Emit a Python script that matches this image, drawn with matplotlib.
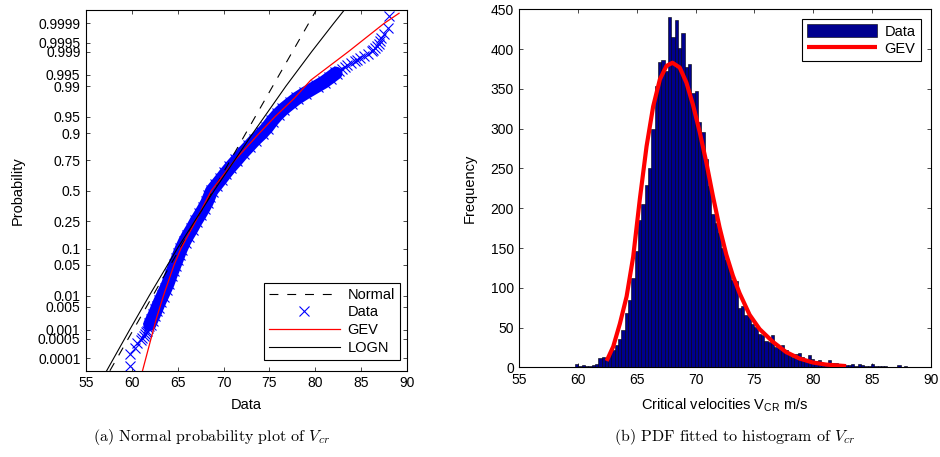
import numpy as np
import matplotlib
matplotlib.use("Agg")
import matplotlib.pyplot as plt
from matplotlib.ticker import FixedLocator, NullLocator
from statistics import NormalDist

plt.rcParams['font.family'] = ['Liberation Sans', 'DejaVu Sans']
plt.rcParams['mathtext.fontset'] = 'custom'
plt.rcParams['mathtext.rm'] = 'Liberation Sans'
plt.rcParams['mathtext.it'] = 'Liberation Sans:italic'

# ---------------- (a) normal probability plot ----------------
# sorted samples (value, plotting probability)
low_tail_x = [59.77, 59.85, 60.35, 60.6, 60.95, 61.1, 61.35, 61.45, 61.55, 61.65, 61.8, 61.9]
low_tail_p = [0.00005, 0.00015, 0.00025, 0.00035, 0.00045, 0.00055, 0.00065, 0.00075,
              0.00085, 0.00095, 0.00115, 0.00135]

band_x = [61.95, 62.15, 62.45, 62.65, 62.8, 63.05, 63.35, 63.7, 63.95, 64.25, 64.5, 64.7,
          64.95, 65.15, 65.4, 65.75, 66.1, 66.55, 67.0, 67.45, 67.85, 68.2, 68.45, 68.7,
          69.2, 69.7, 70.2, 70.75, 71.4, 72.1, 72.8, 73.4, 74.2, 74.75, 75.3, 75.9,
          76.5, 77.4, 78.0, 78.9, 80.2, 80.9, 81.6, 82.25]
band_p = [0.0015, 0.002, 0.003, 0.004, 0.005, 0.007, 0.01, 0.015, 0.02, 0.03, 0.04, 0.05,
          0.065, 0.08, 0.1, 0.13, 0.16, 0.2, 0.25, 0.3, 0.35, 0.4, 0.45, 0.5,
          0.55, 0.6, 0.65, 0.7, 0.75, 0.8, 0.84, 0.87, 0.9, 0.92, 0.94, 0.955,
          0.965, 0.975, 0.98, 0.985, 0.99, 0.992, 0.994, 0.9955]

high_tail_x = [82.6, 82.9, 83.2, 83.5, 83.9, 84.3, 84.6, 84.9, 85.3, 85.7, 86.2, 86.3,
               86.5, 86.7, 86.9, 87.0, 87.2, 87.5, 87.97, 88.04]
high_tail_p = [0.996, 0.9965, 0.997, 0.9974, 0.9977, 0.998, 0.9982, 0.9984, 0.9986, 0.9988,
               0.99905, 0.99915, 0.99925, 0.99935, 0.99945, 0.99955, 0.99965, 0.99975,
               0.99985, 0.99995]

normal_x = [57.6, 80.1]
normal_p = [0.000032, 0.99997]

logn_x = [57.25, 59.75, 61.9, 64.96, 68.95, 73.2, 76.8, 79.6, 82.0, 83.15]
logn_p = [0.000032, 0.001, 0.01, 0.1, 0.5, 0.9, 0.99, 0.999, 0.9999, 0.99997]

gev_x = [61.16, 61.95, 62.68, 63.45, 64.6, 65.35, 66.95, 68.65, 71.2, 73.9, 75.6,
         77.7, 79.5, 83.6, 87.5, 89.13]
gev_p = [0.000032, 0.00035, 0.0023, 0.01, 0.05, 0.1, 0.25, 0.5, 0.75, 0.9, 0.95,
         0.98, 0.993, 0.999, 0.9999, 0.99996]

prob_ticks = [0.0001, 0.0005, 0.001, 0.005, 0.01, 0.05, 0.1, 0.25, 0.5, 0.75, 0.9,
              0.95, 0.99, 0.995, 0.999, 0.9995, 0.9999]
prob_labels = ['0.0001', '0.0005', '0.001', '0.005', '0.01', '0.05', '0.1', '0.25', '0.5',
               '0.75', '0.9', '0.95', '0.99', '0.995', '0.999', '0.9995', '0.9999']

# ---------------- (b) histogram + GEV pdf ----------------
hist_start = 59.72
hist_width = 0.283
hist_counts = [4, 2, 3, 2, 2, 3, 4, 12, 13, 12, 18, 22, 28, 36, 47, 68, 85, 112, 146, 185,
               205, 229, 251, 300, 354, 384, 387, 372, 441, 415, 437, 402, 420, 378, 382, 345,
               347, 308, 296, 262, 228, 193, 182, 169, 150, 135, 127, 110, 108, 75, 77, 66,
               64, 55, 51, 42, 41, 33, 32, 41, 26, 24, 28, 22, 18, 13, 17, 18, 13, 10, 16,
               10, 8, 9, 6, 5, 9, 6, 5, 4, 3, 3, 3, 4, 2, 4, 3, 1, 2, 4, 1, 2, 2, 1, 0, 0,
               0, 3, 0, 2]

pdf_x = [62.42, 62.98, 63.55, 64.12, 64.68, 65.25, 65.82, 66.38, 66.95, 67.51, 68.02,
         68.64, 69.21, 69.77, 70.34, 70.9, 71.47, 72.03, 72.6, 73.17, 73.74, 74.59, 75.44,
         76.57, 77.71, 78.84, 79.97, 81.1, 82.8]
pdf_y = [8, 26, 55, 89, 139, 212, 278, 328, 362, 379, 383, 377, 358, 330, 296, 258, 215,
         176, 142, 115, 93, 66, 48, 32, 19, 11, 6, 3.4, 1.5]

FS = 10.5

# normal probability axis
_nd = NormalDist()
_ppf = np.vectorize(_nd.inv_cdf, otypes=[float])
_cdf = np.vectorize(_nd.cdf, otypes=[float])


def to_z(p):
    p = np.clip(np.asarray(p, dtype=float), 1e-12, 1 - 1e-12)
    return _ppf(p)


def from_z(z):
    return _cdf(np.asarray(z, dtype=float))


fig = plt.figure(figsize=(9.4, 4.57), dpi=100)

ax1 = fig.add_axes([0.0915, 0.1888, 0.3415, 0.790])
ax1.set_yscale('function', functions=(to_z, from_z))

# many overlapping markers form a solid band in the reference
ax1.plot(band_x, band_p, color='blue', lw=9.5, solid_capstyle='round', zorder=2)
ax1.plot(band_x, band_p, 'x', color='blue', ms=9, mew=0.8, zorder=2)
ax1.plot(low_tail_x, low_tail_p, 'x', color='blue', ms=7, mew=0.8, zorder=2)
ax1.plot(high_tail_x, high_tail_p, 'x', color='blue', ms=7, mew=0.8, zorder=2)
h_data, = ax1.plot([], [], 'x', color='blue', ms=7, mew=0.8)
h_norm, = ax1.plot(normal_x, normal_p, color='black', lw=0.8, dashes=(8, 8), zorder=3)
h_gev, = ax1.plot(gev_x, gev_p, color='red', lw=0.9, zorder=3)
h_logn, = ax1.plot(logn_x, logn_p, color='black', lw=0.8, zorder=3)

ax1.set_xlim(55, 90)
ax1.set_ylim(0.0000322, 0.9999713)
ax1.set_xticks([55, 60, 65, 70, 75, 80, 85, 90])
ax1.yaxis.set_major_locator(FixedLocator(prob_ticks))
ax1.set_yticklabels(prob_labels)
ax1.yaxis.set_minor_locator(NullLocator())
ax1.set_xlabel('Data', fontsize=FS)
ax1.set_ylabel('Probability', fontsize=FS)
ax1.xaxis.set_label_coords(0.5, -0.075)
ax1.yaxis.set_label_coords(-0.19, 0.5)

leg1 = ax1.legend([h_norm, h_data, h_gev, h_logn], ['Normal', 'Data', 'GEV', 'LOGN'],
                  loc='lower right', bbox_to_anchor=(0.978, 0.03), borderaxespad=0,
                  fontsize=FS, handlelength=4.9, handletextpad=0.5, labelspacing=0.25,
                  borderpad=0.35, fancybox=False, framealpha=1, edgecolor='black')
leg1.get_frame().set_linewidth(0.8)

ax2 = fig.add_axes([0.5526, 0.1963, 0.4375, 0.783])
centers = [hist_start + hist_width * (i + 0.5) for i in range(len(hist_counts))]
bars = ax2.bar(centers, hist_counts, width=hist_width, color='#00008F', edgecolor='black',
               linewidth=0.4, zorder=2)
h_pdf, = ax2.plot(pdf_x, pdf_y, color='red', lw=3, zorder=3, solid_capstyle='butt')
ax2.set_xlim(55, 90)
ax2.set_ylim(0, 450)
ax2.set_xticks([55, 60, 65, 70, 75, 80, 85, 90])
ax2.set_yticks(range(0, 451, 50))
ax2.set_xlabel(r'Critical velocities V$_\mathrm{CR}$ m/s', fontsize=FS)
ax2.set_ylabel('Frequency', fontsize=FS)
ax2.xaxis.set_label_coords(0.5, -0.083)
ax2.yaxis.set_label_coords(-0.103, 0.5)

leg2 = ax2.legend([bars, h_pdf], ['Data', 'GEV'], loc='upper right',
                  bbox_to_anchor=(0.976, 0.973), borderaxespad=0,
                  fontsize=FS, handlelength=4.8, handleheight=1.0, handletextpad=0.5,
                  labelspacing=0.2, borderpad=0.35, fancybox=False, framealpha=1,
                  edgecolor='black')
leg2.get_frame().set_linewidth(0.8)

for ax in (ax1, ax2):
    ax.tick_params(direction='in', top=True, right=True, length=3, width=0.5,
                   labelsize=10, pad=4)
    for s in ax.spines.values():
        s.set_linewidth(0.8)

fig.text(0.2245, 0.044, r'(a) Normal probability plot of $V_{cr}$', family='cmr10',
         math_fontfamily='cm', fontsize=11.5, ha='center', va='center')
fig.text(0.782, 0.044, r'(b) PDF fitted to histogram of $V_{cr}$', family='cmr10',
         math_fontfamily='cm', fontsize=11.5, ha='center', va='center')

fig.savefig('out.png', dpi=100)
